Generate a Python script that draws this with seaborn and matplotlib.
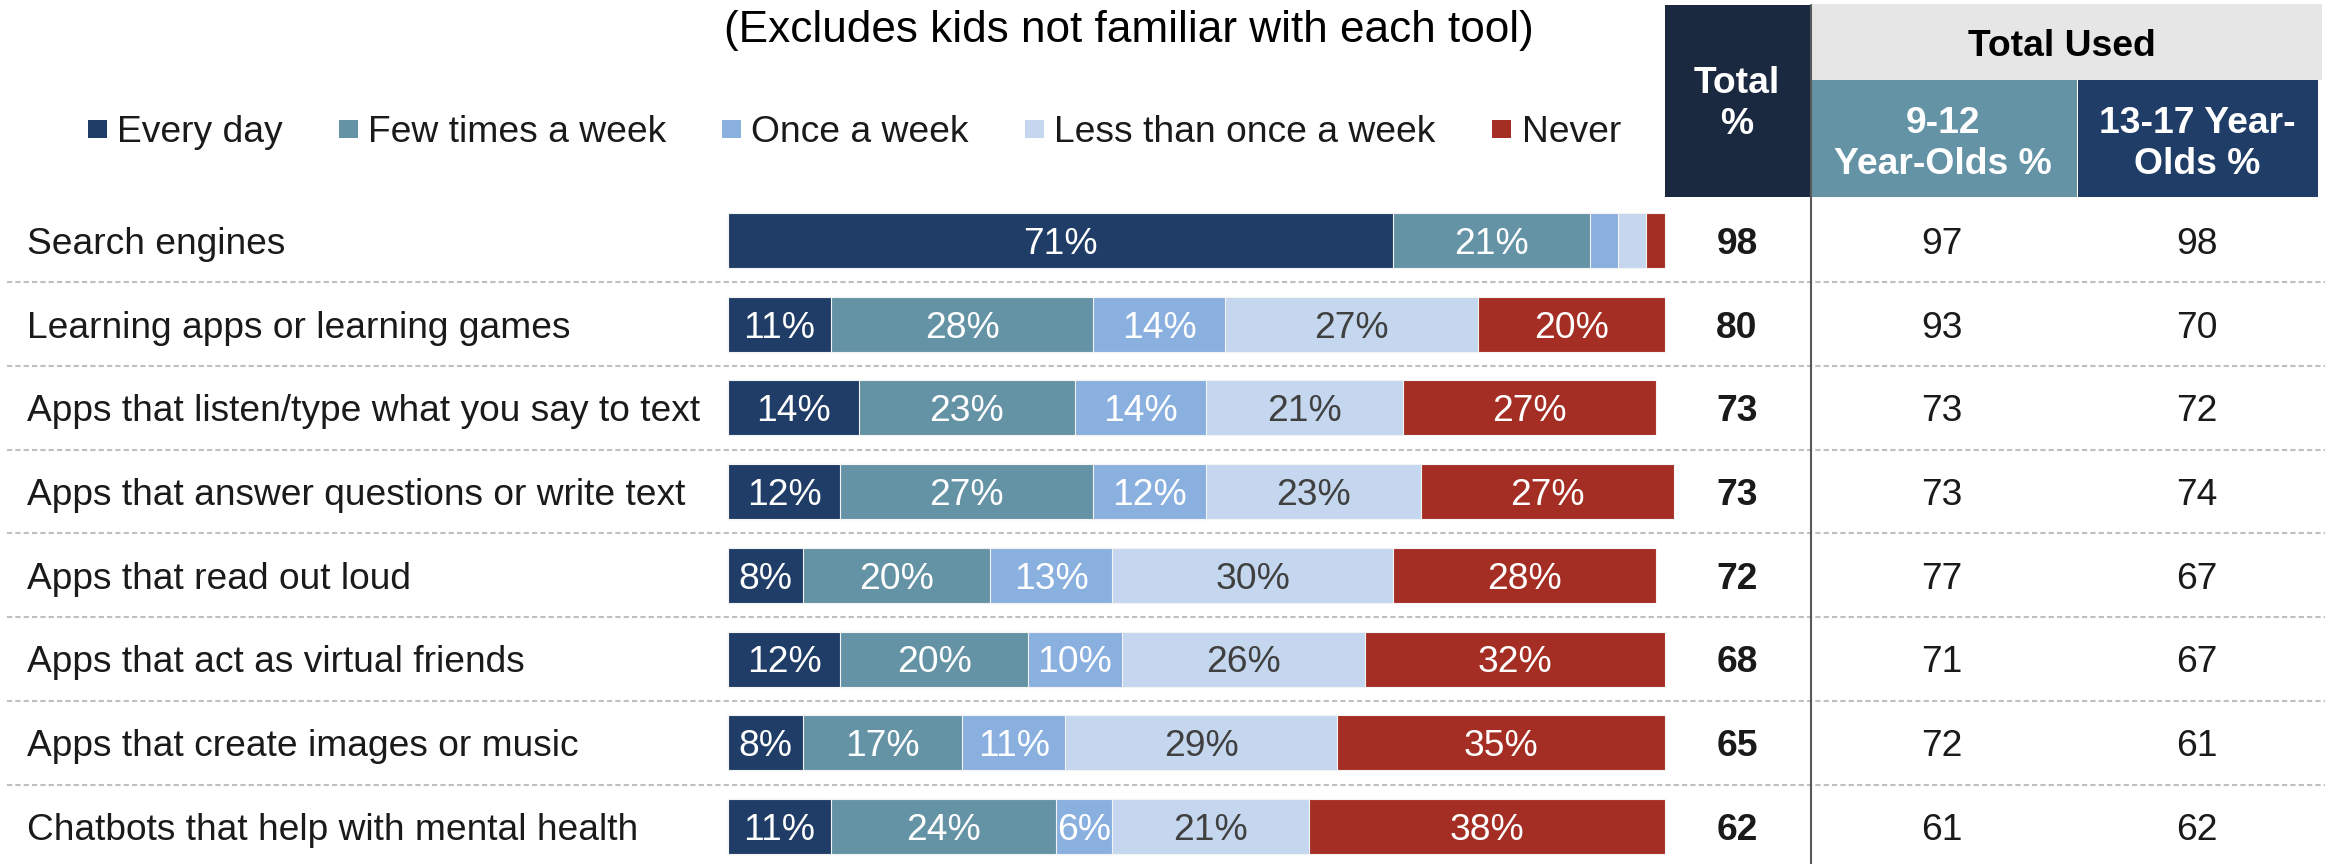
import numpy as np
import pandas as pd
import matplotlib
matplotlib.use("Agg")
import matplotlib.pyplot as plt
from matplotlib.patches import Rectangle
import seaborn as sns

# ---------------- data ----------------
categories = [
    "Search engines",
    "Learning apps or learning games",
    "Apps that listen/type what you say to text",
    "Apps that answer questions or write text",
    "Apps that read out loud",
    "Apps that act as virtual friends",
    "Apps that create images or music",
    "Chatbots that help with mental health",
]
series_names = ["Every day", "Few times a week", "Once a week",
                "Less than once a week", "Never"]
every_day = [71, 11, 14, 12, 8, 12, 8, 11]
few_times = [21, 28, 23, 27, 20, 20, 17, 24]
once_week = [3, 14, 14, 12, 13, 10, 11, 6]
less_than = [3, 27, 21, 23, 30, 26, 29, 21]
never = [2, 20, 27, 27, 28, 32, 35, 38]
total_pct = [98, 80, 73, 73, 72, 68, 65, 62]
age_9_12 = [97, 93, 73, 73, 77, 71, 72, 61]
age_13_17 = [98, 70, 72, 74, 67, 67, 61, 62]
title_text = "(Excludes kids not familiar with each tool)"
hdr_total = "Total\n%"
hdr_used = "Total Used"
hdr_9_12 = "9-12\nYear-Olds %"
hdr_13_17 = "13-17 Year-\nOlds %"

# ---------------- style ----------------
sns.set_theme(style="white")
plt.rcParams["font.family"] = ["Liberation Sans", "DejaVu Sans"]

colors = ["#1f3d66", "#6593a6", "#8ab0e0", "#c4d7ee", "#a52e24"]
label_colors = ["white", "white", "white", "#404040", "white"]

W, H = 2325, 864
fig = plt.figure(figsize=(W / 100, H / 100), dpi=100)
ax = fig.add_axes([0, 0, 1, 1])

X0, X100 = 728, 1665
PPP = (X100 - X0) / 100.0
ROW0, ROWH = 240.5, 83.7


def fx(px):
    return (px - X0) / PPP


def fy(py):
    return (py - ROW0) / ROWH


# ---------------- stacked bars (layered cumulative) ----------------
series = [every_day, few_times, once_week, less_than, never]
cum = np.cumsum(np.array(series), axis=0)
for i in reversed(range(len(series))):
    df = pd.DataFrame({"cat": categories, "val": cum[i]})
    sns.barplot(data=df, x="val", y="cat", order=categories, orient="h",
                color=colors[i], saturation=1, width=55 / ROWH, errorbar=None,
                edgecolor="#f4f4f4", linewidth=0.8, ax=ax)

ax.set_xlim(fx(0), fx(W))
ax.set_ylim(fy(H), fy(0))
ax.axis("off")

FS = 26.8
TXT = "#1a1a1a"
VA = "center_baseline"
# segment labels, row labels, table values
for r in range(len(categories)):
    for i in range(len(series)):
        v = series[i][r]
        if v >= 5:
            ax.text(cum[i][r] - v / 2, r, f"{v}%", ha="center", va=VA,
                    color=label_colors[i], fontsize=FS)
    ax.text(fx(27), r, categories[r], ha="left", va=VA,
            color=TXT, fontsize=26.7)
    ax.text(fx(1737), r, str(total_pct[r]), ha="center", va=VA,
            color=TXT, fontsize=FS, fontweight="bold")
    ax.text(fx(1942), r, str(age_9_12[r]), ha="center", va=VA,
            color=TXT, fontsize=FS)
    ax.text(fx(2197), r, str(age_13_17[r]), ha="center", va=VA,
            color=TXT, fontsize=FS)

# dashed separators
for r in range(len(categories) - 1):
    ax.plot([fx(7), fx(W)], [r + 0.5, r + 0.5], color="#bfbfbf",
            lw=1.5, ls=(0, (2.5, 1.5)), zorder=0)

# vertical separator
ax.plot([fx(1810.5), fx(1810.5)], [fy(5), fy(H)], color="#595959", lw=1.5,
        zorder=3)


# header boxes
def box(x0, y0, x1, y1, fc):
    ax.add_patch(Rectangle((fx(x0), fy(y0)), fx(x1) - fx(x0), fy(y1) - fy(y0),
                           facecolor=fc, edgecolor="none", zorder=1))


box(1665, 5, 1810, 197, "#1b2940")
box(1811, 4, 2322, 80, "#e6e6e6")
box(1811, 80, 2077, 197, "#6593a6")
box(2078, 80, 2318, 197, "#1f3d66")

ax.text(fx(1737), fy(104), hdr_total, ha="center", va="center",
        color="white", fontsize=FS, fontweight="bold", zorder=2,
        linespacing=1.2)
ax.text(fx(2062), fy(42), hdr_used, ha="center", va=VA,
        color="black", fontsize=FS, fontweight="bold", zorder=2)
ax.text(fx(1943), fy(144), hdr_9_12, ha="center", va="center",
        color="white", fontsize=FS, fontweight="bold", zorder=2,
        linespacing=1.2)
ax.text(fx(2197), fy(144), hdr_13_17, ha="center", va="center",
        color="white", fontsize=FS, fontweight="bold", zorder=2,
        linespacing=1.2)

# title
ax.text(fx(1129), fy(26), title_text, ha="center", va=VA,
        color="black", fontsize=31.8)

# legend (manual)
leg_sq_x = [88, 339, 722, 1025, 1492]
leg_tx_x = [117, 368, 751, 1054, 1522]
LEG_Y = 129
for i, name in enumerate(series_names):
    box(leg_sq_x[i], LEG_Y - 9, leg_sq_x[i] + 19, LEG_Y + 9, colors[i])
    ax.text(fx(leg_tx_x[i]), fy(LEG_Y), name, ha="left", va=VA,
            color=TXT, fontsize=FS)

fig.savefig("out.png", dpi=100)
